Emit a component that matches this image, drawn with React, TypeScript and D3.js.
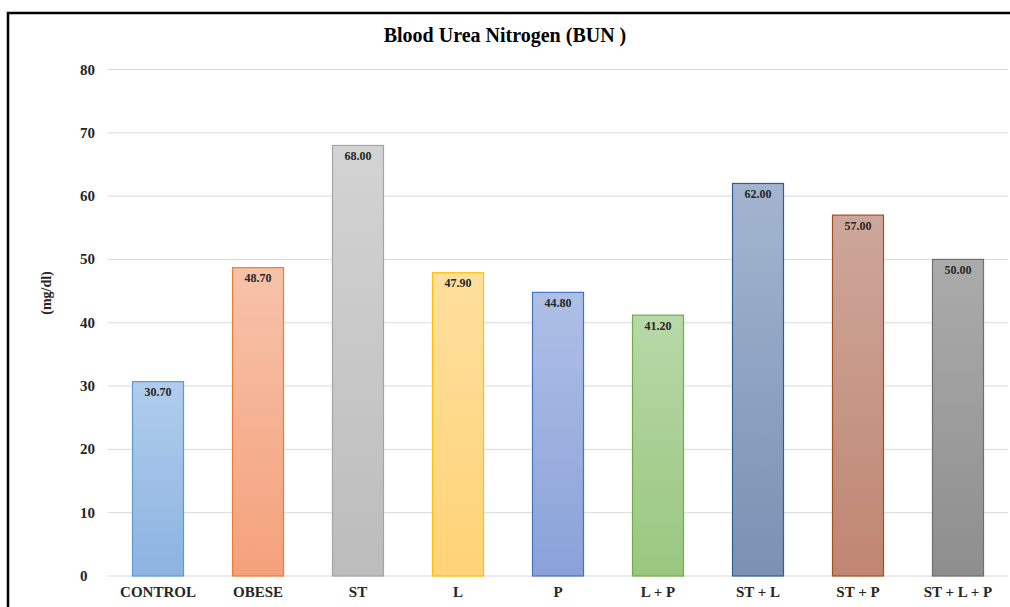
import React, { useEffect, useRef } from 'react';
import * as d3 from 'd3';

// chart data
const categories: string[] = ['CONTROL', 'OBESE', 'ST', 'L', 'P', 'L + P', 'ST + L', 'ST + P', 'ST + L + P'];
const bunValues: number[] = [30.7, 48.7, 68.0, 47.9, 44.8, 41.2, 62.0, 57.0, 50.0];
const yTicks: number[] = [0, 10, 20, 30, 40, 50, 60, 70, 80];

// colours per bar: [top of gradient, bottom of gradient, outline]
const barColors: string[][] = [
  ['#b0cdec', '#8db3e2', '#5b9bd5'],
  ['#f7c2aa', '#f4a17b', '#ed7d31'],
  ['#d3d3d3', '#bcbcbc', '#a5a5a5'],
  ['#ffdf9e', '#ffd377', '#ffc000'],
  ['#afbfe6', '#8aa2d9', '#4472c4'],
  ['#b8d8a8', '#99c77f', '#70ad47'],
  ['#a3b5d0', '#7a91b4', '#2e5f95'],
  ['#cda79b', '#c08672', '#a4501d'],
  ['#ababab', '#8e8e8e', '#6f6f6f'],
];

const W = 1010;
const H = 607;

const App = () => {
  const ref = useRef<SVGSVGElement>(null);

  useEffect(() => {
    const svg = d3.select(ref.current);
    svg.selectAll('*').remove();

    const font = "'Liberation Serif', 'Times New Roman', serif";

    // outer frame of the chart
    svg.append('rect')
      .attr('x', 8)
      .attr('y', 13)
      .attr('width', W + 20)
      .attr('height', H + 20)
      .attr('fill', '#fff')
      .attr('stroke', '#000')
      .attr('stroke-width', 2.5);

    const x = d3.scaleBand<string>()
      .domain(categories)
      .range([108, 1008])
      .paddingInner(0.49)
      .paddingOuter(0.245);

    const y = d3.scaleLinear().domain([0, 80]).range([576, 69.5]);

    // gradients
    const defs = svg.append('defs');
    barColors.forEach((c, i) => {
      const g = defs.append('linearGradient')
        .attr('id', `grad${i}`)
        .attr('x1', 0).attr('y1', 0).attr('x2', 0).attr('y2', 1);
      g.append('stop').attr('offset', '0%').attr('stop-color', c[0]);
      g.append('stop').attr('offset', '100%').attr('stop-color', c[1]);
    });

    // gridlines
    svg.append('g')
      .selectAll('line')
      .data(yTicks)
      .enter()
      .append('line')
      .attr('x1', 108)
      .attr('x2', 1008)
      .attr('y1', d => y(d))
      .attr('y2', d => y(d))
      .attr('stroke', '#d9d9d9')
      .attr('stroke-width', 1);

    // y tick labels
    svg.append('g')
      .selectAll('text')
      .data(yTicks)
      .enter()
      .append('text')
      .attr('x', 80)
      .attr('y', d => y(d) + 5)
      .attr('font-family', font)
      .attr('font-weight', 'bold')
      .attr('font-size', 15)
      .attr('fill', '#262626')
      .text(d => String(d));

    // bars
    svg.append('g')
      .selectAll('rect')
      .data(bunValues)
      .enter()
      .append('rect')
      .attr('x', (d, i) => x(categories[i]) as number)
      .attr('y', d => y(d))
      .attr('width', x.bandwidth())
      .attr('height', d => y(0) - y(d))
      .attr('fill', (d, i) => `url(#grad${i})`)
      .attr('stroke', (d, i) => barColors[i][2])
      .attr('stroke-width', 1.2);

    // value labels inside bars
    svg.append('g')
      .selectAll('text')
      .data(bunValues)
      .enter()
      .append('text')
      .attr('x', (d, i) => (x(categories[i]) as number) + x.bandwidth() / 2)
      .attr('y', d => y(d) + 14.5)
      .attr('text-anchor', 'middle')
      .attr('font-family', font)
      .attr('font-weight', 'bold')
      .attr('font-size', 12)
      .attr('fill', '#262626')
      .text(d => d.toFixed(2));

    // category labels
    svg.append('g')
      .selectAll('text')
      .data(categories)
      .enter()
      .append('text')
      .attr('x', d => (x(d) as number) + x.bandwidth() / 2)
      .attr('y', 597)
      .attr('text-anchor', 'middle')
      .attr('font-family', font)
      .attr('font-weight', 'bold')
      .attr('font-size', 15)
      .attr('fill', '#262626')
      .text(d => d);

    // y axis title
    svg.append('text')
      .attr('transform', 'translate(51,293) rotate(-90)')
      .attr('text-anchor', 'middle')
      .attr('font-family', font)
      .attr('font-weight', 'bold')
      .attr('font-size', 14)
      .attr('fill', '#262626')
      .text('(mg/dl)');

    // chart title
    svg.append('text')
      .attr('x', 505)
      .attr('y', 42)
      .attr('text-anchor', 'middle')
      .attr('font-family', font)
      .attr('font-weight', 'bold')
      .attr('font-size', 20)
      .attr('fill', '#000')
      .text('Blood Urea Nitrogen (BUN )');
  }, []);

  return (
    <svg
      ref={ref}
      width={W}
      height={H}
      style={{ position: 'absolute', left: 0, top: 0, background: '#fff' }}
    />
  );
};

export default App;
